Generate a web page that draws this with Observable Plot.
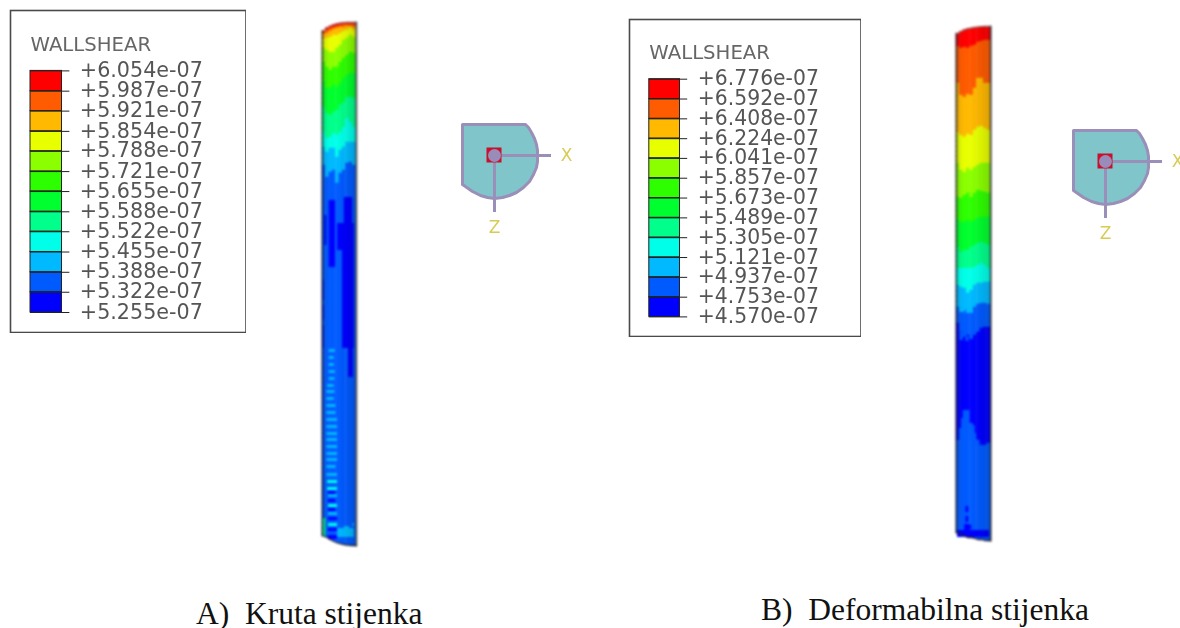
<!DOCTYPE html>
<html><head><meta charset="utf-8">
<script src="https://cdn.jsdelivr.net/npm/d3@7"></script>
<script src="https://cdn.jsdelivr.net/npm/@observablehq/plot@0.6"></script>
<style>
html,body{margin:0;padding:0;background:#fff;overflow:hidden}
#stage{position:relative;width:1180px;height:628px;overflow:hidden}
.soft{filter:blur(.45px)}
.softer{filter:blur(.8px)}
.cap{position:absolute;font-family:"Liberation Serif",serif;font-size:31.5px;line-height:32px;color:#111;white-space:pre}
</style></head><body>
<div id="stage"></div>
<script>
// ---- data ----
const bandColors = ["#ff0000","#ff5b00","#ffb900","#e8ff00","#8bff00","#2eff00","#00ff2e","#00ff8b","#00ffe8","#00b9ff","#005bff","#0000ff"];
const ticksA = ["+6.054e-07","+5.987e-07","+5.921e-07","+5.854e-07","+5.788e-07","+5.721e-07","+5.655e-07","+5.588e-07","+5.522e-07","+5.455e-07","+5.388e-07","+5.322e-07","+5.255e-07"];
const ticksB = ["+6.776e-07","+6.592e-07","+6.408e-07","+6.224e-07","+6.041e-07","+5.857e-07","+5.673e-07","+5.489e-07","+5.305e-07","+5.121e-07","+4.937e-07","+4.753e-07","+4.570e-07"];
const legendTitle = "WALLSHEAR";

// axial position of the wall outline and of the contour edges, by column round the wall
const topA = [30.7,27.3,25.7,24.3,23.3,22.7,22.3,22,22,22];
const botA = [535,537.3,539.3,541,542.3,543.3,544,544.7,545,545];
const edgesA = [
 [32,30,28,27,26,25,24,24,24,24],
 [34,33,31,29,28,27,27,26,26,27],
 [39,38,37,35,35,33,31,30,28,30],
 [48,50,52,52,48,45,40,38,35,37],
 [62,67,70,67,67,62,58,55,52,53],
 [82,88,88,85,87,83,78,75,73,73],
 [107,113,115,112,110,105,102,97,97,98],
 [132,138,137,133,135,132,127,118,122,127],
 [147,152,148,148,157,150,147,142,142,142],
 [165,177,172,170,183,173,170,163,162,165]
];
const bandsA = [0,1,2,3,4,5,6,7,8,9,10];
const topB = [33.3,31,29.3,28.3,27.7,27,26.7,26.3,26,26];
const botB = [532,534,536,537,537,538,539,539,540,540];
const edgesB = [
 [46,48,47,48,46,45,42,41,40,40],
 [83,95,97,94,95,88,78,78,83,83],
 [132,135,137,134,135,130,127,126,128,130],
 [163,170,172,168,170,167,165,163,163,163],
 [197,198,195,193,197,193,190,191,192,193],
 [220,222,222,220,222,220,218,217,217,217],
 [247,252,250,250,247,245,243,242,243,245],
 [268,268,268,268,268,267,265,263,265,268],
 [285,287,288,293,290,285,283,283,282,282],
 [307,312,310,313,312,307,304,303,303,304],
 [323,332,337,335,338,335,332,328,327,327],
 [440,430,423,417,423,433,440,445,445,443]
];
const bandsB = [0,1,2,3,4,5,6,7,8,9,10,11,10];
// isolated contour patches: [column from, column to, axial from, axial to, band]
const patchesA = [
 [2,3.9,200,267,11],[6.5,9,197,223,11],[4.5,9.5,223,250,11],[6,9.5,250,348,11],[7.8,9.2,348,377,11],
 [0.7,1.3,215,245,11],[0.1,0.5,280,300,11],[0.1,0.5,305,320,11],[0.1,0.5,325,348,11],
 [2,3.8,349,352,9],[2,3.5,356,359,9],[2,3.5,363,366,9],[2,3.8,370,373,9],[2,3.7,377,380,9],
 [1.5,3.5,384,387,9],[1.3,3.7,390,393,9],[1.3,3.5,397,400,9],[1.3,4,404,407,9],[1.3,4,411,414,9],
 [1.3,4.5,418,421,9],[1.3,4.5,425,428,9],[1.3,4.5,432,435,9],[1.3,4.5,438,441,9],[1.3,4.5,445,448,9],
 [1.3,4.5,452,455,9],[1.3,4.5,458,461,9],[1.3,4,465,468,9],[1.3,4.5,473,476,9],[1.5,4.5,480,483,8],
 [1.5,4.5,487,490,8],[1.8,4,491,494,11],[1.8,4.5,494,497,9],[1.8,4,499,502,11],[1.8,4.5,504,507,8],
 [1.8,4,508,511,11],[1.8,4.5,512,515,9],[1.8,4.5,517,520,11],[1.8,4.5,523,526,8],[1.8,4.5,528,531,11],
 [1.8,4.5,535,539,11],[0,1,518,536,7],[4.5,9.5,528,537,9],[6.5,8,526,528,9],[9,9.5,523,526,9]
];
const patchesB = [
 [1,2.5,306,312,9],[3,5,308,313,9],[1,2,332,340,10],[2.8,3.6,336,341,10],[4,5,334,339,10],
 [1.5,3,418,428,10],[2,4,410,418,10],[0.8,2.5,428,440,10],[4,5.5,425,440,10],[5,6,438,446,10],
 [2.8,3.6,506,512,11],[2.8,3.6,516,522,11],[2.4,4,524,530,11],[3.5,4.5,525,529,11],
 [0.3,9.7,530,537,11]
];
const shade = [0.15,0.03,0,0,0,0.02,0.04,0.06,0.09,0.13];
// global triad, relative to its origin
const triadX = [-32,31,34,37,40,42,43,43,43,42,39,35,29,22,15,8,0,-7,-14,-22,-32,-32];
const triadZ = [-31,-31,-28,-23,-17,-11,-5,0,6,12,19,26,32,37,40,42,43,42,40,36,29,-31];

// ---- page helpers ----
const stage = document.getElementById("stage");
function place(svg,left,top,cls){
  svg.style.position="absolute"; svg.style.left=left+"px"; svg.style.top=top+"px";
  svg.style.background="transparent"; if(cls) svg.classList.add(cls); stage.appendChild(svg);
}
const ink = "DejaVu Sans, sans-serif";

function legend(ticks,box,bar){
  const vals = ticks.map(Number);
  const bands = vals.slice(0,-1).map((v,i)=>({hi:v,lo:vals[i+1],band:i}));
  const svg = Plot.plot({
    width:box.w,height:box.h,margin:0,
    x:{axis:null,domain:[0,1],range:[bar.x0-box.x,bar.x1-box.x]},
    y:{axis:null,domain:[vals[12],vals[0]],range:[bar.y1-box.y,bar.y0-box.y]},
    color:{type:"ordinal",domain:d3.range(12),range:bandColors},
    marks:[
      Plot.frame({inset:1,stroke:"#4a4a4a",strokeWidth:1.6}),
      Plot.rect(bands,{x1:0,x2:1,y1:"lo",y2:"hi",fill:"band",stroke:"#222",strokeWidth:1}),
      Plot.ruleY(vals,{x1:0,x2:1.25,stroke:"#222",strokeWidth:1}),
      Plot.text(ticks,{x:bar.label,y:d=>Number(d),dy:-0.5,text:d=>d,textAnchor:"start",fill:"#555",fontFamily:ink,fontSize:bar.font}),
      Plot.text([legendTitle],{x:0,y:vals[0],dy:-26.5,text:d=>d,textAnchor:"start",fill:"#666",fontFamily:ink,fontSize:19.7})
    ]
  });
  place(svg,box.x,box.y,"soft");
}

function wall(edges,bands,top,bot,patches,left,right){
  const rows=[];
  d3.range(10).forEach(c=>{
    bands.forEach((b,i)=>{
      rows.push({c0:c,c1:c+1,y0:i===0?top[c]:edges[i-1][c],y1:i<edges.length?edges[i][c]:bot[c],band:b});
    });
  });
  const pRows = patches.map(p=>({c0:p[0],c1:p[1],y0:p[2],y1:p[3],band:p[4]}));
  const cols = d3.range(10);
  const W = 60, pad = 13;
  const svg = Plot.plot({
    width:W,height:628,margin:0,
    x:{axis:null,domain:[0,10],range:[pad,pad+right-left]},
    y:{axis:null,domain:[0,628],range:[0,628]},
    color:{type:"ordinal",domain:d3.range(12),range:bandColors},
    marks:[
      Plot.line([[0,top[0]],[0,bot[0]]],{x:"0",y:"1",stroke:"#999",strokeWidth:3}),
      Plot.line([[10,top[9]],[10,bot[9]]],{x:"0",y:"1",stroke:"#999",strokeWidth:3}),
      Plot.rect(rows,{x1:"c0",x2:"c1",y1:"y0",y2:"y1",fill:"band",inset:-0.2}),
      Plot.rect(pRows,{x1:"c0",x2:"c1",y1:"y0",y2:"y1",fill:"band"}),
      Plot.rect(cols,{x1:d=>d,x2:d=>d+1,y1:d=>top[d],y2:d=>bot[d],fill:"#000",fillOpacity:d=>shade[d]}),
      Plot.line([[0,top[0]],[0,bot[0]]],{x:"0",y:"1",stroke:"#223",strokeWidth:1,strokeDasharray:"4 1"}),
      Plot.line([[10,top[9]],[10,bot[9]]],{x:"0",y:"1",stroke:"#223",strokeWidth:1}),
      Plot.line(cols,{x:d=>d===0?0:d===9?10:d+.5,y:d=>top[d],stroke:"#666",strokeWidth:1,curve:"monotone-x"}),
      Plot.line(cols,{x:d=>d===0?0:d===9?10:d+.5,y:d=>bot[d],stroke:"#223",strokeWidth:1.3,curve:"monotone-x"})
    ]
  });
  place(svg,left-pad,0,"softer");
}

function triad(cx,cy){
  const pts = triadX.map((x,i)=>({x,z:triadZ[i]}));
  const L=40,T=40,W=130,H=125;
  const svg = Plot.plot({
    width:W,height:H,margin:0,
    x:{axis:null,domain:[-L,W-L],range:[0,W]},
    y:{axis:null,domain:[-T,H-T],range:[0,H]},
    marks:[
      Plot.line(pts,{x:"x",y:"z",fill:"#80c5ca",stroke:"#9a8fb8",strokeWidth:3,curve:"linear"}),
      Plot.ruleY([0],{x1:0,x2:57,stroke:"#9a8fb8",strokeWidth:3}),
      Plot.ruleX([0],{y1:0,y2:57,stroke:"#9a8fb8",strokeWidth:3}),
      Plot.rect([0],{x1:-7.5,x2:7.5,y1:-7.5,y2:7.5,fill:"#c8102e"}),
      Plot.dot([0],{x:0,y:0,r:6.5,fill:"#9a8cb8"}),
      Plot.text(["X"],{x:72,y:0,text:d=>d,fill:"#d8cc55",fontFamily:ink,fontSize:17}),
      Plot.text(["Z"],{x:0,y:72,text:d=>d,fill:"#d8cc55",fontFamily:ink,fontSize:17})
    ]
  });
  place(svg,cx-L,cy-T,"soft");
}

legend(ticksA,{x:8.5,y:9.3,w:237.5,h:324},{x0:29.5,x1:61,y0:70.7,y1:312.3,label:1.565,font:20.7});
legend(ticksB,{x:627.5,y:18.3,w:233.5,h:319},{x0:648.3,x1:679,y0:79,y1:316.7,label:1.58,font:20.35});
wall(edgesA,bandsA,topA,botA,patchesA,321.5,355);
wall(edgesB,bandsB,topB,botB,patchesB,956,990);
triad(494.3,155);
triad(1105,161);

for (const [t,x,y] of [["A)  Kruta stijenka",196,597.5],["B)  Deformabilna stijenka",761,593.5]]) {
  const d=document.createElement("div");d.className="cap";d.textContent=t;d.style.left=x+"px";d.style.top=y+"px";stage.appendChild(d);
}
</script></body></html>
